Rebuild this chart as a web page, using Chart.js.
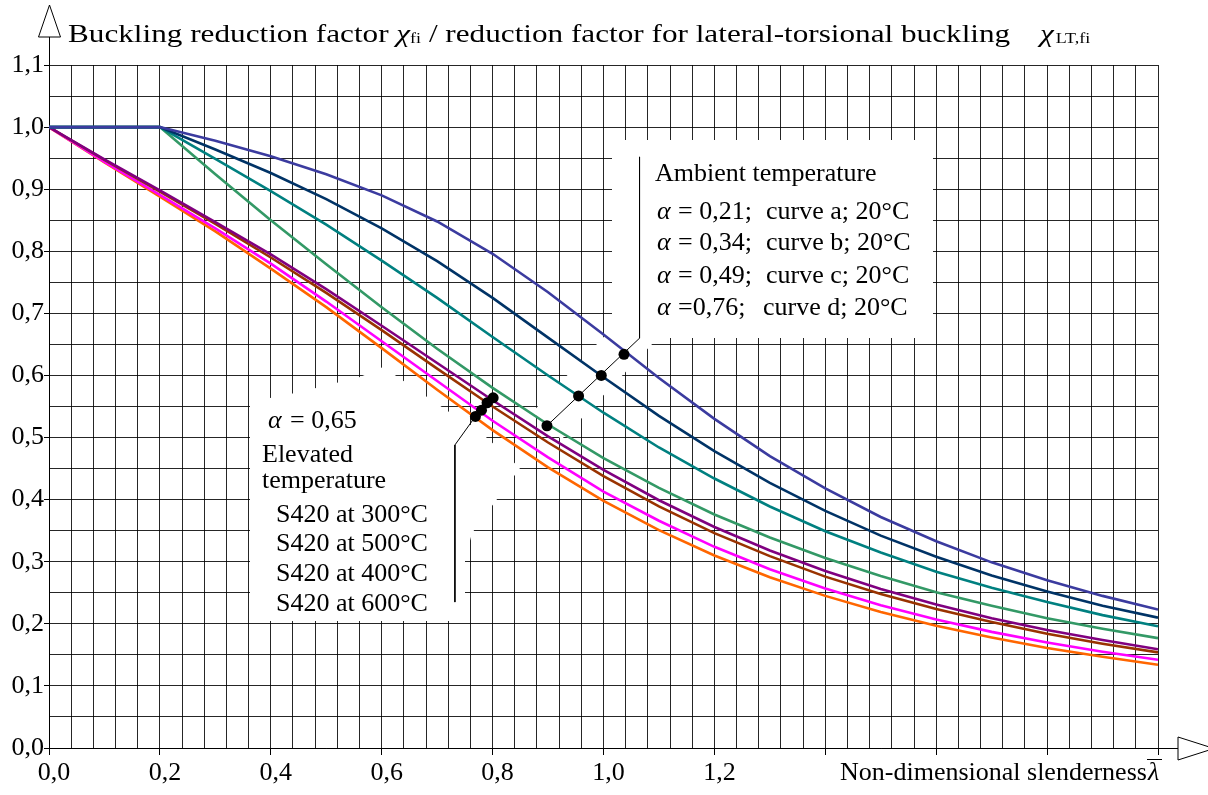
<!DOCTYPE html>
<html>
<head>
<meta charset="utf-8">
<script src="https://cdn.jsdelivr.net/npm/chart.js@4.4.1/dist/chart.umd.min.js"></script>
<style>
    html, body { margin: 0; padding: 0; background: #fff; }
    #wrap { width: 1208px; height: 795px; }
</style>
</head>
<body>
<div id="wrap"><canvas id="buckling-chart" width="1208" height="795"></canvas></div>
<script>
// Non-dimensional slenderness (x) and reduction factors
const slenderness = [0.0, 0.1, 0.2, 0.3, 0.4, 0.5, 0.6, 0.7, 0.8, 0.9, 1.0,
                     1.1, 1.2, 1.3, 1.4, 1.5, 1.6, 1.7, 1.8, 1.9, 2.0];

// Ambient temperature, buckling curves a-d
const curveA = [1.000, 1.000, 1.000, 0.978, 0.953, 0.924, 0.890, 0.848, 0.796, 0.734, 0.666,
                0.596, 0.530, 0.470, 0.418, 0.372, 0.333, 0.299, 0.270, 0.245, 0.223];
const curveB = [1.000, 1.000, 1.000, 0.964, 0.926, 0.884, 0.837, 0.784, 0.725, 0.661, 0.597,
                0.535, 0.478, 0.427, 0.382, 0.342, 0.308, 0.278, 0.252, 0.229, 0.210];
const curveC = [1.000, 1.000, 1.000, 0.949, 0.897, 0.843, 0.785, 0.725, 0.662, 0.600, 0.540,
                0.484, 0.434, 0.389, 0.349, 0.315, 0.284, 0.258, 0.235, 0.214, 0.196];
const curveD = [1.000, 1.000, 1.000, 0.924, 0.850, 0.779, 0.710, 0.643, 0.580, 0.521, 0.467,
                0.419, 0.376, 0.339, 0.306, 0.277, 0.251, 0.229, 0.209, 0.192, 0.177];

// Elevated temperature, S420
const s420at300 = [1.000, 0.948, 0.898, 0.847, 0.795, 0.739, 0.680, 0.620, 0.560, 0.502, 0.448,
                   0.399, 0.356, 0.318, 0.285, 0.256, 0.231, 0.209, 0.190, 0.174, 0.159];
const s420at500 = [1.000, 0.947, 0.896, 0.844, 0.790, 0.733, 0.673, 0.611, 0.550, 0.492, 0.438,
                   0.389, 0.346, 0.309, 0.276, 0.248, 0.224, 0.203, 0.184, 0.168, 0.154];
const s420at400 = [1.000, 0.944, 0.891, 0.837, 0.780, 0.719, 0.655, 0.591, 0.527, 0.468, 0.413,
                   0.366, 0.324, 0.288, 0.257, 0.230, 0.207, 0.187, 0.170, 0.155, 0.142];
const s420at600 = [1.000, 0.943, 0.888, 0.832, 0.772, 0.710, 0.644, 0.577, 0.512, 0.452, 0.398,
                   0.351, 0.310, 0.275, 0.245, 0.219, 0.197, 0.178, 0.161, 0.147, 0.134];

// Marker dots on the curves and their leader lines
const ambientDotX = [1.037, 0.996, 0.955, 0.898];
const ambientDotY = [0.634, 0.600, 0.567, 0.519];
const elevatedDotX = [0.801, 0.790, 0.780, 0.769];
const elevatedDotY = [0.564, 0.556, 0.544, 0.534];
const ambientLeaderX = [1.065, 1.065, 0.898];
const ambientLeaderY = [0.952, 0.660, 0.519];
const elevatedLeaderX = [0.769, 0.732, 0.732];
const elevatedLeaderY = [0.534, 0.488, 0.235];

// Axis settings
const xMax = 2.0;
const yMax = 1.1;
const xLastLabel = 1.2;

const ambientLines = [
    { head: '= 0,21;', tail: 'curve a; 20°C' },
    { head: '= 0,34;', tail: 'curve b; 20°C' },
    { head: '= 0,49;', tail: 'curve c; 20°C' },
    { head: '=0,76;', tail: 'curve d; 20°C' }
];
const elevatedLines = ['S420 at 300°C', 'S420 at 500°C', 'S420 at 400°C', 'S420 at 600°C'];

const SERIF = '"Liberation Serif", "DejaVu Serif", serif';

function toPoints(xs, ys) {
    return xs.map((x, i) => ({ x: x, y: ys[i] }));
}

function isStep(v, step) {
    const r = v / step;
    return Math.abs(r - Math.round(r)) < 1e-6;
}

function fmt(v) {
    return v.toFixed(1).replace('.', ',');
}

function curve(data, color, order) {
    return {
        data: toPoints(slenderness, data),
        borderColor: color,
        borderWidth: 2.6,
        pointRadius: 0,
        tension: 0,
        fill: false,
        order: order
    };
}

// draws text horizontally stretched (the title in the source is wider than its height)
function wideText(ctx, text, x, y, sx) {
    ctx.save();
    ctx.translate(x, y);
    ctx.scale(sx, 1);
    ctx.fillText(text, 0, 0);
    ctx.restore();
    return ctx.measureText(text).width * sx;
}

const annotate = {
    id: 'annotate',
    beforeDatasetsDraw(chart) {
        const ctx = chart.ctx;
        const xs = chart.scales.x;
        const ys = chart.scales.y;
        ctx.save();
        ctx.fillStyle = '#fff';
        ctx.strokeStyle = '#fff';

        // Box behind the ambient legend
        ctx.fillRect(612, 140, 321, 198);

        // Halo around the ambient leader
        ctx.lineWidth = 40;
        ctx.lineCap = 'butt';
        ctx.beginPath();
        ctx.moveTo(xs.getPixelForValue(ambientLeaderX[1]), ys.getPixelForValue(ambientLeaderY[1]) - 10);
        ctx.lineTo(xs.getPixelForValue(ambientLeaderX[2]), ys.getPixelForValue(ambientLeaderY[2]));
        ctx.stroke();

        // Region behind the elevated legend
        ctx.beginPath();
        ctx.moveTo(250, 402);
        ctx.lineTo(300, 392);
        ctx.lineTo(360, 377);
        ctx.lineTo(383, 367);
        ctx.lineTo(455, 416);
        ctx.lineTo(476, 428);
        ctx.lineTo(520, 468);
        ctx.lineTo(472, 533);
        ctx.lineTo(465, 560);
        ctx.lineTo(465, 621);
        ctx.lineTo(250, 621);
        ctx.closePath();
        ctx.fill();
        ctx.restore();
    },
    afterDraw(chart) {
        const ctx = chart.ctx;
        const area = chart.chartArea;
        ctx.save();
        ctx.fillStyle = '#000';
        ctx.strokeStyle = '#000';
        ctx.lineWidth = 1;
        ctx.textBaseline = 'alphabetic';
        ctx.textAlign = 'left';

        // Axis extensions and hollow arrow heads
        ctx.beginPath();
        ctx.moveTo(area.left + 0.5, 37);
        ctx.lineTo(area.left + 0.5, area.top);
        ctx.moveTo(area.right, area.bottom + 0.5);
        ctx.lineTo(area.right + 20, area.bottom + 0.5);
        ctx.stroke();

        ctx.fillStyle = '#fff';
        ctx.beginPath();
        ctx.moveTo(area.left + 0.5, 5);
        ctx.lineTo(area.left + 11.5, 37);
        ctx.lineTo(area.left - 10.5, 37);
        ctx.closePath();
        ctx.fill();
        ctx.stroke();
        ctx.beginPath();
        ctx.moveTo(area.right + 20, area.bottom - 11);
        ctx.lineTo(area.right + 56, area.bottom + 0.5);
        ctx.lineTo(area.right + 20, area.bottom + 12);
        ctx.closePath();
        ctx.fill();
        ctx.stroke();
        ctx.fillStyle = '#000';

        // Title
        const big = '26px ' + SERIF;
        const ital = 'italic 26px ' + SERIF;
        const small = '15px ' + SERIF;
        const sx = 1.2;
        let x = 68;
        const by = 42;
        ctx.font = big;
        x += wideText(ctx, 'Buckling reduction factor ', x, by, sx);
        ctx.font = ital;
        x += wideText(ctx, 'χ', x, by, sx);
        ctx.font = small;
        x += wideText(ctx, 'fi', x, by + 1, sx);
        ctx.font = big;
        wideText(ctx, ' / reduction factor for lateral-torsional buckling', x, by, sx);
        ctx.font = ital;
        const chiW = wideText(ctx, 'χ', 1040, by, sx);
        ctx.font = small;
        wideText(ctx, 'LT,fi', 1040 + chiW + 2, by + 1, sx);

        // X axis title
        ctx.font = big;
        ctx.fillText('Non-dimensional slenderness', 840, 780);
        ctx.font = ital;
        ctx.fillText('λ', 1148, 780);
        ctx.beginPath();
        ctx.moveTo(1147, 759.5);
        ctx.lineTo(1162, 759.5);
        ctx.stroke();

        // Ambient legend
        ctx.font = big;
        ctx.fillText('Ambient temperature', 655, 181);
        const ambientBase = [219, 250, 283, 315];
        ambientLines.forEach((line, i) => {
            const y = ambientBase[i];
            ctx.font = ital;
            ctx.fillText('α', 657, y);
            ctx.font = big;
            ctx.fillText(line.head, 678, y);
            ctx.fillText(line.tail, i === 3 ? 763 : 766, y);
        });

        // Elevated legend
        ctx.font = ital;
        ctx.fillText('α', 268, 428);
        ctx.font = big;
        ctx.fillText('= 0,65', 290, 428);
        ctx.fillText('Elevated', 262, 462);
        ctx.fillText('temperature', 262, 488);
        const elevatedBase = [522, 551, 581, 611];
        elevatedLines.forEach((t, i) => ctx.fillText(t, 276, elevatedBase[i]));

        ctx.restore();
    }
};

const gridColor = 'rgba(0,0,0,0.85)';

new Chart(document.getElementById('buckling-chart'), {
    type: 'line',
    data: {
        datasets: [
            {
                data: toPoints(ambientDotX.concat(elevatedDotX), ambientDotY.concat(elevatedDotY)),
                showLine: false,
                pointRadius: 5.5,
                pointBackgroundColor: '#000',
                pointBorderColor: '#000',
                pointBorderWidth: 0,
                order: 0
            },
            {
                data: toPoints(ambientLeaderX, ambientLeaderY),
                borderColor: '#000',
                borderWidth: 1,
                pointRadius: 0,
                tension: 0,
                order: 1
            },
            {
                data: toPoints(elevatedLeaderX, elevatedLeaderY),
                borderColor: '#000',
                borderWidth: 1,
                pointRadius: 0,
                tension: 0,
                order: 1
            },
            curve(curveA, '#3b3b9f', 2),
            curve(curveB, '#003366', 2),
            curve(curveC, '#008080', 2),
            curve(curveD, '#339966', 2),
            curve(s420at300, '#800080', 3),
            curve(s420at500, '#993300', 3),
            curve(s420at400, '#ff00ff', 3),
            curve(s420at600, '#ff6600', 3)
        ]
    },
    options: {
        responsive: false,
        animation: false,
        devicePixelRatio: 1,
        layout: { padding: { top: 65, right: 50, left: 0, bottom: 0 } },
        plugins: {
            legend: { display: false },
            tooltip: { enabled: false }
        },
        scales: {
            x: {
                type: 'linear',
                min: 0,
                max: xMax,
                afterFit: (scale) => { scale.height = 47; },
                border: { display: true, color: '#000', width: 1 },
                grid: {
                    color: gridColor,
                    lineWidth: 1,
                    tickLength: 7,
                    tickColor: (c) => (c.tick && isStep(c.tick.value, 0.2)) ? '#000' : 'rgba(0,0,0,0)'
                },
                ticks: {
                    stepSize: 0.04,
                    maxTicksLimit: 200,
                    autoSkip: false,
                    maxRotation: 0,
                    labelOffset: 5,
                    padding: 3,
                    color: '#000',
                    font: { family: SERIF, size: 26 },
                    callback: (v) => (isStep(v, 0.2) && v <= xLastLabel + 1e-6) ? fmt(v) : ''
                }
            },
            y: {
                min: 0,
                max: yMax,
                afterFit: (scale) => { scale.width = 49; },
                border: { display: true, color: '#000', width: 1 },
                grid: {
                    color: gridColor,
                    lineWidth: 1,
                    tickLength: 5,
                    tickColor: (c) => (c.tick && isStep(c.tick.value, 0.1)) ? '#000' : 'rgba(0,0,0,0)'
                },
                ticks: {
                    stepSize: 0.05,
                    maxTicksLimit: 200,
                    autoSkip: false,
                    padding: 0,
                    color: '#000',
                    font: { family: SERIF, size: 26 },
                    callback: (v) => isStep(v, 0.1) ? fmt(v) : ''
                }
            }
        }
    },
    plugins: [annotate]
});
</script>
</body>
</html>
